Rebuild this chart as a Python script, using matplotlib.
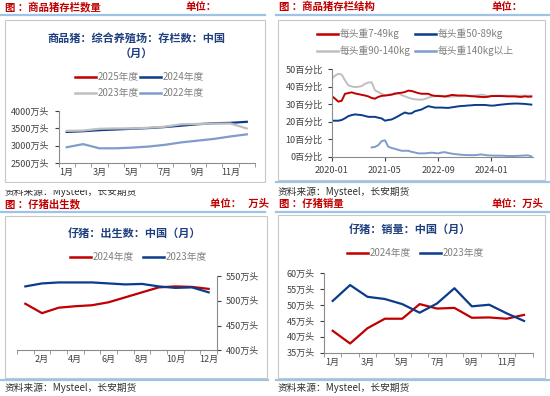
import numpy as np
import matplotlib
matplotlib.use('Agg')
import matplotlib.pyplot as plt
from matplotlib.lines import Line2D
from matplotlib.patches import Rectangle

plt.rcParams['font.family'] = ['Noto Sans CJK SC', 'DejaVu Sans']

# ---- 数据 ----
# 图1 商品猪存栏数量（万头）
months = ['1月', '2月', '3月', '4月', '5月', '6月', '7月', '8月', '9月', '10月', '11月', '12月']
stock_2025 = []
stock_2024 = [3400, 3420, 3450, 3470, 3490, 3510, 3540, 3580, 3620, 3650, 3660, 3690]
stock_2023 = [3430, 3440, 3490, 3500, 3500, 3520, 3550, 3620, 3630, 3640, 3640, 3500]
stock_2022 = [2960, 3050, 2930, 2930, 2950, 2980, 3030, 3100, 3150, 3200, 3270, 3330]

# 图2 商品猪存栏结构（百分比），2020-01 起按月
struct_ticks = ['2020-01', '2021-05', '2022-09', '2024-01']
w_7_49 = [34.7, 33.2, 31.5, 32.0, 36.0, 36.4, 36.8, 36.2, 35.8, 35.4,
          35.0, 34.5, 33.6, 33.2, 34.2, 34.8, 35.0, 35.2, 35.5, 36.0,
          36.4, 36.6, 37.0, 37.8, 37.6, 37.0, 36.4, 36.0, 36.0, 36.0,
          35.2, 34.8, 34.7, 34.6, 34.5, 34.8, 35.3, 35.2, 35.0, 35.0,
          35.0, 34.8, 34.6, 34.5, 34.3, 34.2, 34.1, 34.3, 34.7, 34.7,
          34.7, 34.7, 34.6, 34.5, 34.5, 34.5, 34.3, 34.2, 34.5, 34.3,
          34.4]
w_50_89 = [20.6, 20.6, 20.6, 21.0, 22.0, 23.2, 23.8, 24.2, 24.0, 23.8,
           23.3, 22.8, 22.8, 22.8, 22.3, 21.9, 20.6, 21.0, 21.3, 22.2,
           23.2, 24.3, 25.3, 24.7, 24.8, 26.0, 26.5, 27.0, 28.0, 28.9,
           28.5, 28.1, 28.1, 28.1, 28.0, 27.9, 28.2, 28.5, 28.8, 29.0,
           29.1, 29.3, 29.4, 29.6, 29.6, 29.6, 29.6, 29.4, 29.2, 29.3,
           29.6, 29.8, 30.0, 30.2, 30.3, 30.4, 30.4, 30.3, 30.2, 30.0,
           29.8]
w_90_140 = [44.5, 46.4, 47.4, 47.0, 43.6, 40.8, 40.2, 39.8, 40.0, 40.4,
            41.7, 42.4, 42.6, 38.0, 37.0, 36.0, 35.0, 35.5, 35.7, 36.4,
            36.2, 35.3, 34.5, 33.8, 33.2, 32.8, 32.7, 32.6, 33.0, 33.8,
            34.3, 34.7, 35.0, 34.8, 34.2, 34.3, 34.4, 34.5, 34.6, 34.6,
            34.7, 34.8, 34.9, 34.9, 35.2, 35.5, 35.2, 34.7, 34.8, 34.9,
            34.9, 34.9, 34.9, 34.9, 34.9, 34.9, 34.9, 34.9, 34.9, 34.9,
            34.9]
w_140 = [np.nan] * 12 + [
    5.3, 5.6, 6.6, 8.9, 9.4, 5.7, 5.0, 4.5, 3.9, 3.4,
    3.4, 3.4, 2.8, 2.4, 1.9, 1.9, 1.9, 2.1, 2.3, 2.1,
    1.9, 2.4, 2.6, 2.1, 1.8, 1.5, 1.3, 1.1, 1.0, 0.9,
    0.9, 0.9, 1.1, 1.3, 1.0, 0.75, 0.7, 0.6, 0.6, 0.6,
    0.5, 0.4, 0.4, 0.4, 0.5, 0.6, 0.7, 0.75, 0.2]

# 图3 仔猪出生数（万头）
birth_2024 = [494, 475, 486, 489, 491, 497, 507, 517, 527, 529, 528, 524]
birth_2023 = [529, 535, 537, 537, 537, 535, 533, 534, 529, 526, 527, 517]

# 图4 仔猪销量（万头）
sales_2024 = [41.9, 37.9, 42.7, 45.7, 45.7, 50.3, 48.9, 49.1, 46.0, 46.1, 45.7, 46.9]
sales_2023 = [51.3, 56.3, 52.6, 51.9, 50.3, 47.6, 50.5, 55.3, 49.6, 50.1, 47.4, 45.0]

RED = '#C00000'
DBLUE = '#0B3C8C'
GRAY = '#BFBFBF'
LBLUE = '#7F9CCB'
TBLUE = '#1F3F7F'
SEP = '#9DC3E6'
TXT = '#404040'

W, H = 550, 396
fig = plt.figure(figsize=(W / 100, H / 100), dpi=100)


def ftxt(x, y, s, **kw):
    kw.setdefault('va', 'center')
    return fig.text(x / W, 1 - y / H, s, **kw)


def fline(x0, x1, y, **kw):
    fig.add_artist(Line2D([x0 / W, x1 / W], [1 - y / H, 1 - y / H],
                          transform=fig.transFigure, **kw))


def frect(l, t, r, b, **kw):
    fig.add_artist(Rectangle((l / W, 1 - b / H), (r - l) / W, (b - t) / H,
                             transform=fig.transFigure, **kw))


def make_ax(l, t, r, b):
    ax = fig.add_axes([l / W, 1 - b / H, (r - l) / W, (b - t) / H])
    ax.set_facecolor('none')
    for s in ax.spines.values():
        s.set_color('#8C8C8C')
        s.set_linewidth(0.8)
    ax.tick_params(labelsize=6.5, colors=TXT, length=0, width=0.8)
    return ax


def leg(x, y, color, label, lw=1.8):
    fline(x, x + 21, y, color=color, lw=lw)
    ftxt(x + 23, y, label, fontsize=7, color='#808080')


def header(x, y, title, ux, unit):
    ftxt(x, y, title, fontsize=7.5, color=RED, fontweight='bold')
    ftxt(ux, y, unit, fontsize=7.5, color=RED, fontweight='bold')


# ---- 框架 ----
header(5, 7, '图 ：商品猪存栏数量', 185, '单位：')
header(279, 7, '图 ：商品猪存栏结构', 492, '单位：')
header(5, 204, '图 ：仔猪出生数', 210, '单位：   万头')
header(279, 204, '图 ：仔猪销量', 492, '单位：万头')
for y in (15, 212):
    fline(0, 265, y, color=SEP, lw=1.6)
    fline(276, 550, y, color=SEP, lw=1.6)
frect(5, 20, 265, 182, fill=False, ec='#C8C8C8', lw=0.8)
frect(278, 20, 545, 180, fill=False, ec='#C8C8C8', lw=0.8)
frect(5, 216, 267, 378, fill=False, ec='#C8C8C8', lw=0.8)
frect(278, 215, 545, 378, fill=False, ec='#C8C8C8', lw=0.8)

src = '资料来源：Mysteel，长安期货'
ftxt(5, 192, src, fontsize=7, color='#303030')
frect(0, 183, 268, 189.5, fc='white', ec='none', zorder=5)
ftxt(278, 192, src, fontsize=7, color='#303030')
ftxt(5, 388, src, fontsize=7, color='#303030')
ftxt(278, 388, src, fontsize=7, color='#303030')
fline(276, 550, 182, color=SEP, lw=1.6)
fline(0, 268, 379.5, color=SEP, lw=1.6)
fline(276, 550, 379.5, color=SEP, lw=1.6)

# ---- 图1 ----
ftxt(136, 39, '商品猪：综合养殖场：存栏数：中国', fontsize=8, color=TBLUE,
     fontweight='bold', ha='center')
ftxt(136, 53, '（月）', fontsize=8, color=TBLUE, fontweight='bold', ha='center')
leg(75, 77, RED, '2025年度')
leg(140, 77, DBLUE, '2024年度')
leg(75, 93, GRAY, '2023年度')
leg(140, 93, LBLUE, '2022年度')

ax1 = make_ax(58.5, 111, 255, 163.3)
x = np.arange(12)
ax1.plot(x, stock_2022, color=LBLUE, lw=1.6)
ax1.plot(x, stock_2024, color=DBLUE, lw=1.6)
ax1.plot(x, stock_2023, color=GRAY, lw=1.6)
ax1.plot(x[:len(stock_2025)], stock_2025, color=RED, lw=1.6)
ax1.set_xlim(-0.5, 11.5)
ax1.set_ylim(2500, 4000)
ax1.set_yticks([2500, 3000, 3500, 4000])
ax1.set_yticklabels([f'{v}万头' for v in [2500, 3000, 3500, 4000]])
ax1.set_xticks(x[::2])
ax1.set_xticklabels(months[::2])
ax1.set_xticks(np.arange(-0.5, 12, 1), minor=True)
ax1.tick_params(axis='x', which='minor', length=3, direction='out', color='#8C8C8C')
ax1.tick_params(axis='y', length=3, direction='out')
ax1.spines[['top', 'right']].set_visible(False)

# ---- 图2 ----
leg(317, 34, RED, '每头重7-49kg')
leg(415, 34, DBLUE, '每头重50-89kg')
leg(317, 51, GRAY, '每头重90-140kg')
leg(415, 51, LBLUE, '每头重140kg以上')

ax2 = make_ax(331.7, 69.3, 533, 156.7)
m = np.arange(len(w_7_49))
ax2.plot(m, w_90_140, color=GRAY, lw=1.4)
ax2.plot(m, w_7_49, color=RED, lw=1.4)
ax2.plot(m, w_50_89, color=DBLUE, lw=1.4)
ax2.plot(m, w_140, color=LBLUE, lw=1.4)
ax2.set_xlim(0, 60.5)
ax2.set_ylim(0, 50)
ax2.set_yticks(range(0, 51, 10))
ax2.set_yticklabels([f'{v}百分比' for v in range(0, 51, 10)])
ax2.set_xticks([0, 16, 32, 48])
ax2.set_xticklabels(struct_ticks)
ax2.tick_params(length=3, direction='out')
ax2.spines[['top', 'right']].set_visible(False)

# ---- 图3 ----
ftxt(134, 233, '仔猪：出生数：中国（月）', fontsize=8, color=TBLUE,
     fontweight='bold', ha='center')
leg(70, 257, RED, '2024年度')
leg(143, 257, DBLUE, '2023年度')

ax3 = make_ax(17, 276, 217, 350.3)
ax3.plot(x, birth_2024, color=RED, lw=1.6)
ax3.plot(x, birth_2023, color=DBLUE, lw=1.6)
ax3.set_xlim(-0.5, 11.5)
ax3.set_ylim(400, 550)
ax3.yaxis.tick_right()
ax3.set_yticks([400, 450, 500, 550])
ax3.set_yticklabels([f'{v}万头' for v in [400, 450, 500, 550]])
ax3.set_xticks(x[1::2])
ax3.set_xticklabels(months[1::2])
ax3.set_xticks(np.arange(-0.5, 12, 1), minor=True)
ax3.tick_params(axis='x', which='minor', length=3, direction='out', color='#8C8C8C')
ax3.tick_params(axis='y', length=3, direction='out')
ax3.spines[['top', 'left']].set_visible(False)

# ---- 图4 ----
ftxt(410, 229, '仔猪：销量：中国（月）', fontsize=8, color=TBLUE,
     fontweight='bold', ha='center')
leg(347, 253, RED, '2024年度')
leg(420, 253, DBLUE, '2023年度')

ax4 = make_ax(324, 273.3, 532.7, 352.7)
ax4.plot(x, sales_2024, color=RED, lw=1.6)
ax4.plot(x, sales_2023, color=DBLUE, lw=1.6)
ax4.set_xlim(-0.5, 11.5)
ax4.set_ylim(35, 60)
ax4.set_yticks(range(35, 61, 5))
ax4.set_yticklabels([f'{v}万头' for v in range(35, 61, 5)])
ax4.set_xticks(x[::2])
ax4.set_xticklabels(months[::2])
ax4.set_xticks(np.arange(-0.5, 12, 1), minor=True)
ax4.tick_params(axis='x', which='minor', length=3, direction='out', color='#8C8C8C')
ax4.tick_params(axis='y', length=3, direction='out')
ax4.spines[['top', 'right']].set_visible(False)

fig.savefig('out.png', dpi=100)
